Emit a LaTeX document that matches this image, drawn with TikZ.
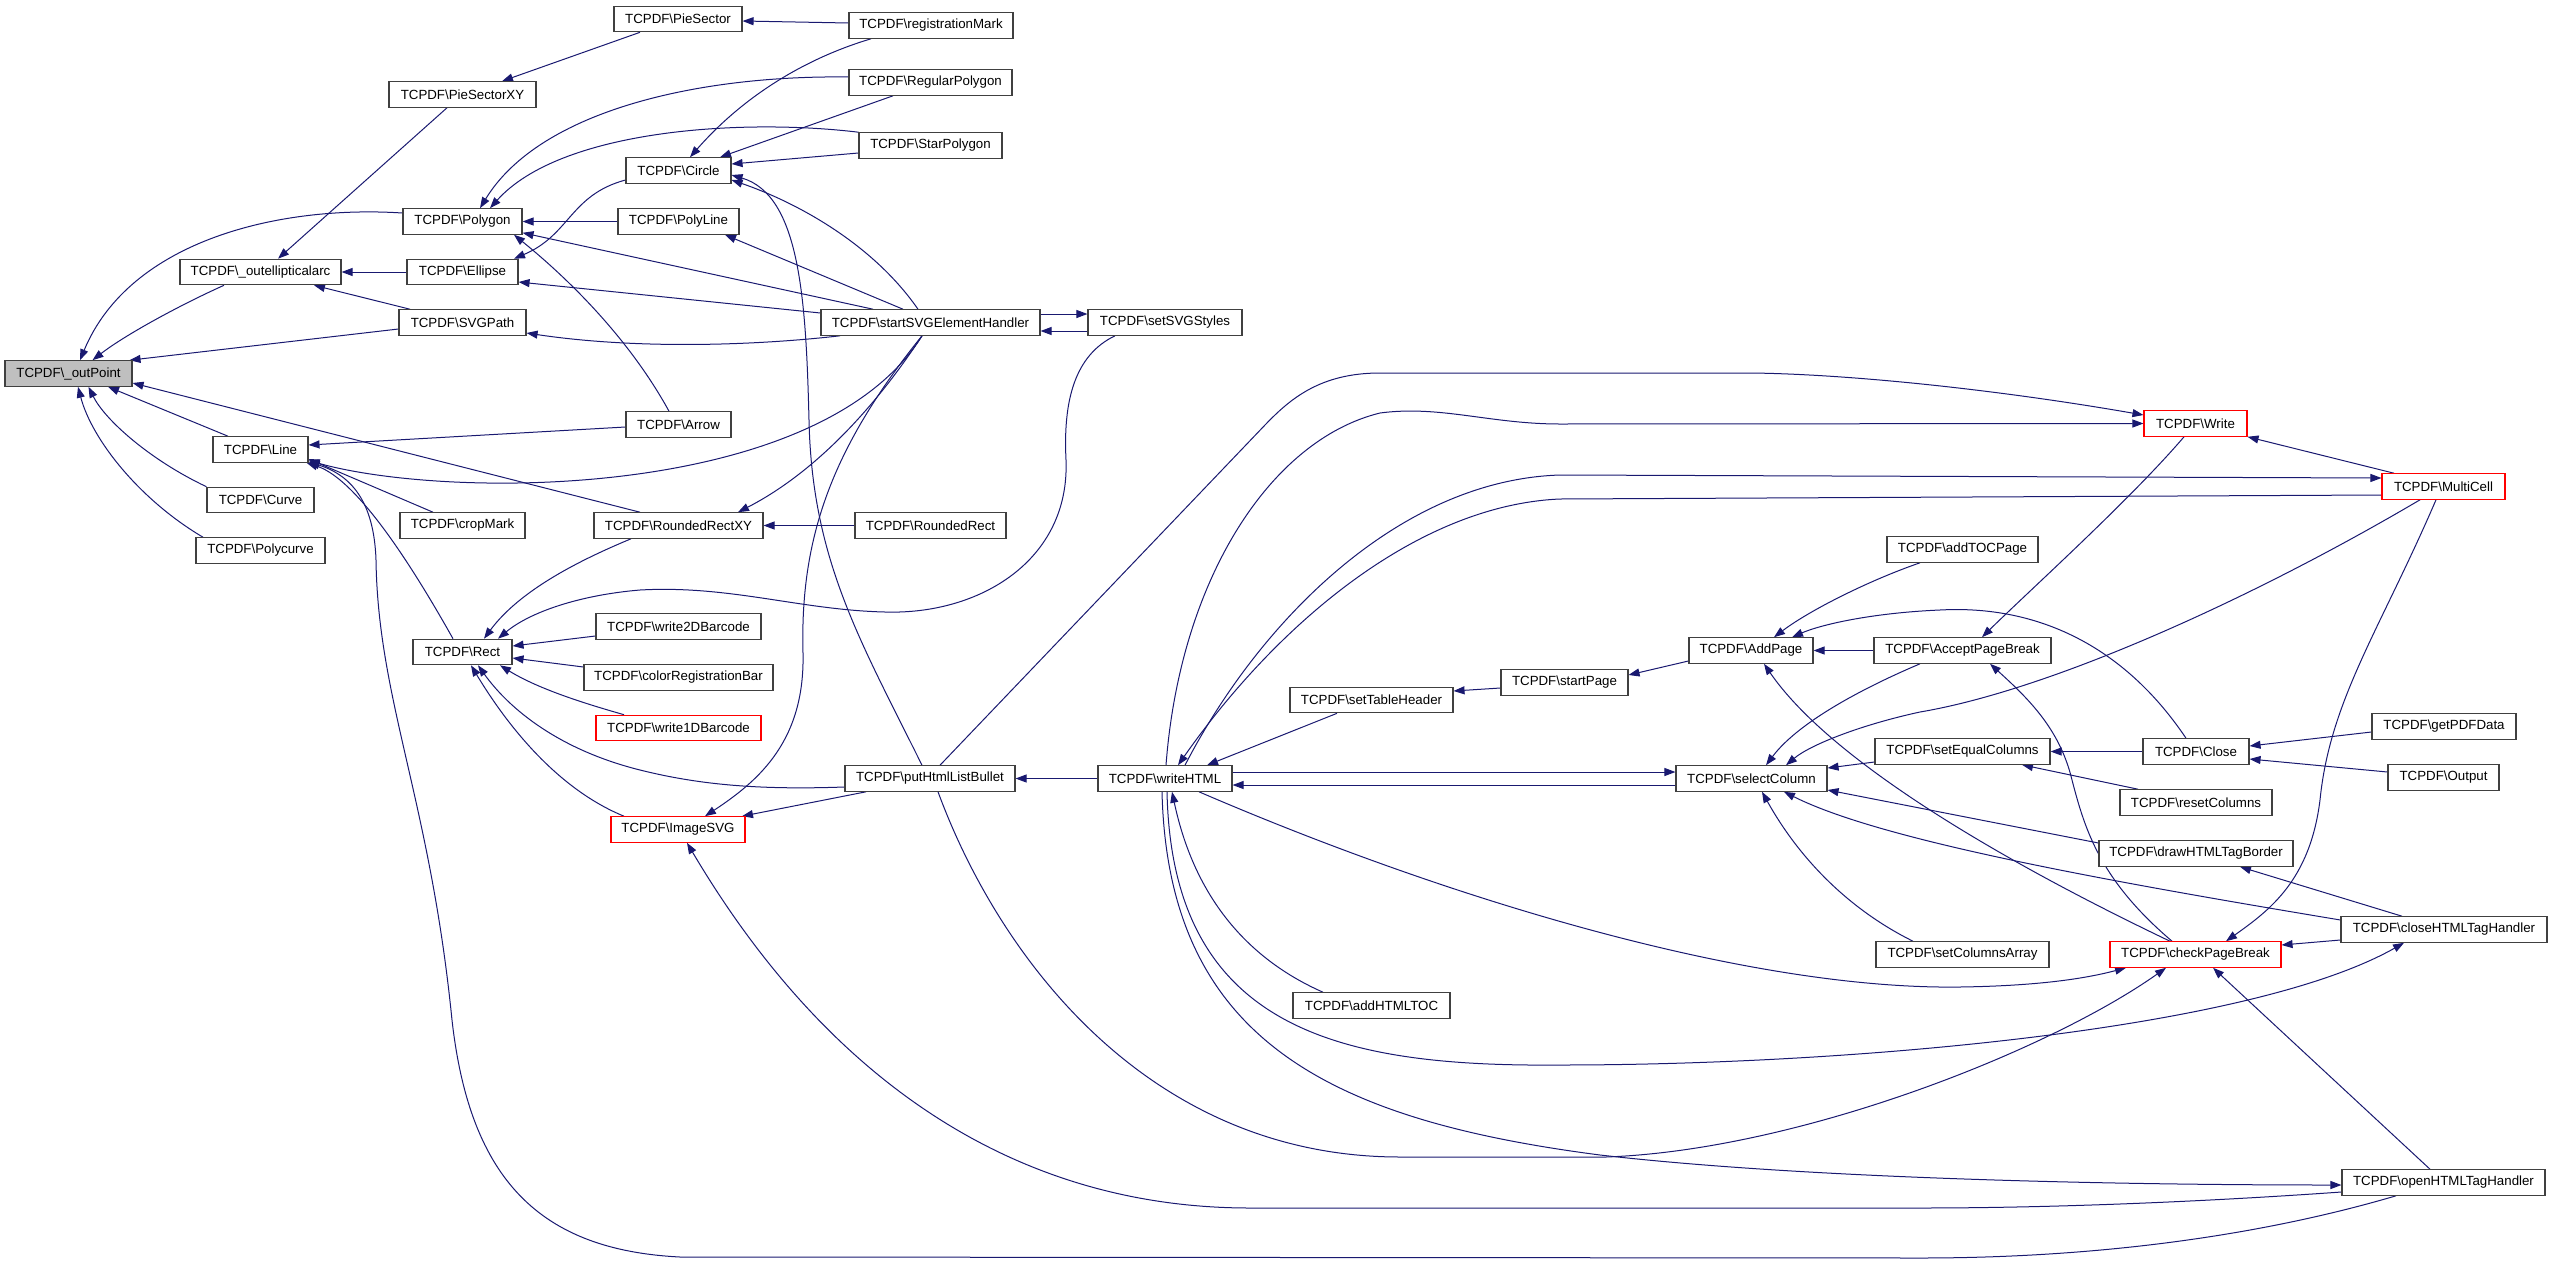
\documentclass[tikz,border=0pt]{standalone}
\usepackage{fontspec}
\setmainfont{Liberation Sans}
\usetikzlibrary{arrows.meta}
\definecolor{edgeblue}{HTML}{191970}
\definecolor{ndborder}{HTML}{404040}
\definecolor{rootfill}{HTML}{BFBFBF}
\newcommand{\tbs}{\textbackslash}
\pgfdeclarelayer{edgelayer}
\pgfsetlayers{edgelayer,main}
\tikzset{
  nd/.style={draw=ndborder, line width=1.1pt, fill=white, minimum height=25.5pt,
    inner xsep=4pt, inner ysep=0pt, font=\fontsize{13.3}{15}\selectfont, text=black},
  rnd/.style={nd, draw=red},
  e/.style={draw=edgeblue, line width=1pt, -{Triangle[length=11pt,width=8pt,fill=edgeblue]}}
}
\begin{document}
\begin{tikzpicture}[x=1pt,y=-1pt]
\useasboundingbox (0,0) rectangle (2552,1264);
% column 1
\node[nd, fill=rootfill, minimum width=127pt] (outPoint) at (68.5,373.5) {TCPDF\tbs\_outPoint};
% column 2
\node[nd, minimum width=161pt] (outellipticalarc) at (260.5,272) {TCPDF\tbs\_outellipticalarc};
\node[nd, minimum width=95pt] (Line) at (260.5,449.5) {TCPDF\tbs Line};
\node[nd, minimum width=107pt] (Curve) at (260.5,500) {TCPDF\tbs Curve};
\node[nd, minimum width=129pt] (Polycurve) at (260.5,550.5) {TCPDF\tbs Polycurve};
% column 3
\node[nd, minimum width=147pt] (PieSectorXY) at (462.5,94.5) {TCPDF\tbs PieSectorXY};
\node[nd, minimum width=119pt] (Polygon) at (462.5,221.5) {TCPDF\tbs Polygon};
\node[nd, minimum width=111pt] (Ellipse) at (462.5,272) {TCPDF\tbs Ellipse};
\node[nd, minimum width=127pt] (SVGPath) at (462.5,322.5) {TCPDF\tbs SVGPath};
\node[nd, minimum width=125pt] (cropMark) at (462.5,525.5) {TCPDF\tbs cropMark};
\node[nd, minimum width=99pt] (Rect) at (462.5,652) {TCPDF\tbs Rect};
% column 4
\node[nd, minimum width=128pt] (PieSector) at (678,19) {TCPDF\tbs PieSector};
\node[nd, minimum width=105pt] (Circle) at (678.5,170.5) {TCPDF\tbs Circle};
\node[nd, minimum width=121pt] (PolyLine) at (678.5,221.5) {TCPDF\tbs PolyLine};
\node[nd, minimum width=105pt] (Arrow) at (678.5,424.5) {TCPDF\tbs Arrow};
\node[nd, minimum width=169pt] (RoundedRectXY) at (678.5,525.5) {TCPDF\tbs RoundedRectXY};
\node[nd, minimum width=165pt] (write2DBarcode) at (678.5,626.5) {TCPDF\tbs write2DBarcode};
\node[nd, minimum width=189pt] (colorRegistrationBar) at (678.5,677.5) {TCPDF\tbs colorRegistrationBar};
\node[rnd, minimum width=165pt] (write1DBarcode) at (678.5,728) {TCPDF\tbs write1DBarcode};
\node[rnd, minimum width=134pt] (ImageSVG) at (678,829.5) {TCPDF\tbs ImageSVG};
% column 5
\node[nd, minimum width=164pt] (registrationMark) at (931,25.5) {TCPDF\tbs registrationMark};
\node[nd, minimum width=163pt] (RegularPolygon) at (930.5,82.5) {TCPDF\tbs RegularPolygon};
\node[nd, minimum width=143pt] (StarPolygon) at (930.5,145.5) {TCPDF\tbs StarPolygon};
\node[nd, minimum width=219pt] (startSVGElementHandler) at (930.5,322.5) {TCPDF\tbs startSVGElementHandler};
\node[nd, minimum width=151pt] (RoundedRect) at (930.5,525.5) {TCPDF\tbs RoundedRect};
\node[nd, minimum width=170pt] (putHtmlListBullet) at (930,778.5) {TCPDF\tbs putHtmlListBullet};
% column 6
\node[nd, minimum width=154pt] (setSVGStyles) at (1165,322.5) {TCPDF\tbs setSVGStyles};
\node[nd, minimum width=134pt] (writeHTML) at (1165,778.5) {TCPDF\tbs writeHTML};
% column 7
\node[nd, minimum width=163pt] (setTableHeader) at (1371.5,700) {TCPDF\tbs setTableHeader};
\node[nd, minimum width=157pt] (addHTMLTOC) at (1371.5,1005.5) {TCPDF\tbs addHTMLTOC};
% column 8
\node[nd, minimum width=127pt] (startPage) at (1564.5,682.5) {TCPDF\tbs startPage};
% column 9
\node[nd, minimum width=124pt] (AddPage) at (1751,650.5) {TCPDF\tbs AddPage};
\node[nd, minimum width=151pt] (selectColumn) at (1751.5,778.5) {TCPDF\tbs selectColumn};
% column 10
\node[nd, minimum width=151pt] (addTOCPage) at (1962.5,549.5) {TCPDF\tbs addTOCPage};
\node[nd, minimum width=177pt] (AcceptPageBreak) at (1962.5,650.5) {TCPDF\tbs AcceptPageBreak};
\node[nd, minimum width=175pt] (setEqualColumns) at (1962.5,751.5) {TCPDF\tbs setEqualColumns};
\node[nd, minimum width=173pt] (setColumnsArray) at (1962.5,954.5) {TCPDF\tbs setColumnsArray};
% column 11
\node[rnd, minimum width=103pt] (Write) at (2195.5,423.5) {TCPDF\tbs Write};
\node[nd, minimum width=106pt] (Close) at (2196,751.5) {TCPDF\tbs Close};
\node[nd, minimum width=152pt] (resetColumns) at (2196,802.5) {TCPDF\tbs resetColumns};
\node[nd, minimum width=194pt] (drawHTMLTagBorder) at (2196,853.5) {TCPDF\tbs drawHTMLTagBorder};
\node[rnd, minimum width=171pt] (checkPageBreak) at (2195.5,954.5) {TCPDF\tbs checkPageBreak};
% column 12
\node[rnd, minimum width=123pt] (MultiCell) at (2443.5,486.5) {TCPDF\tbs MultiCell};
\node[nd, minimum width=144pt] (getPDFData) at (2444,726.5) {TCPDF\tbs getPDFData};
\node[nd, minimum width=111pt] (Output) at (2443.5,777.5) {TCPDF\tbs Output};
\node[nd, minimum width=206pt] (closeHTMLTagHandler) at (2444,929.5) {TCPDF\tbs closeHTMLTagHandler};
\node[nd, minimum width=203pt] (openHTMLTagHandler) at (2443.5,1182.5) {TCPDF\tbs openHTMLTagHandler};

\begin{pgfonlayer}{edgelayer}
% to outPoint
\draw[e] ([yshift=8.5pt]Polygon.west) .. controls (280,205) and (130,240) .. ([xshift=11.5pt]outPoint.north);
\draw[e] ([xshift=-36.5pt]outellipticalarc.south) .. controls (180,305) and (125,335) .. ([xshift=24pt]outPoint.north);
\draw[e] ([yshift=-6.5pt]SVGPath.west) -- ([xshift=-3pt]outPoint.north east);
\draw[e] ([xshift=-38.5pt]RoundedRectXY.north) -- ([yshift=-9.5pt]outPoint.east);
\draw[e] ([xshift=-32.5pt]Line.north) -- ([xshift=39.5pt]outPoint.south);
\draw[e] (Curve.north west) .. controls (150,460) and (105,420) .. ([xshift=20pt]outPoint.south);
\draw[e] ([xshift=-57.5pt]Polycurve.north) .. controls (140,500) and (92,440) .. ([xshift=9.5pt]outPoint.south);
% to outellipticalarc
\draw[e] ([xshift=-15.5pt]PieSectorXY.south) -- ([xshift=17.5pt]outellipticalarc.north);
\draw[e] (Ellipse.west) -- (outellipticalarc.east);
\draw[e] ([xshift=-52.5pt]SVGPath.north) -- ([xshift=53.5pt]outellipticalarc.south);
% PieSector
\draw[e] ([xshift=-38pt]PieSector.south) -- ([xshift=39.5pt]PieSectorXY.north);
\draw[e] ([yshift=2.5pt]registrationMark.west) -- ([yshift=-2pt]PieSector.east);
% to Polygon
\draw[e] ([yshift=5.5pt]RegularPolygon.west) .. controls (700,75) and (540,110) .. ([xshift=17.5pt]Polygon.north);
\draw[e] (StarPolygon.north west) .. controls (740,118) and (560,130) .. ([xshift=27.5pt]Polygon.north);
\draw[e] (PolyLine.west) -- (Polygon.east);
\draw[e] ([xshift=-57.5pt]startSVGElementHandler.north) -- ([yshift=2pt]Polygon.south east);
\draw[e] ([xshift=-9.5pt]Arrow.north) .. controls (630,340) and (570,280) .. ([xshift=51.5pt]Polygon.south);
% to Ellipse, SVGPath
\draw[e] ([yshift=-9.5pt]Circle.west) .. controls (570,195) and (570,235) .. ([xshift=51.5pt]Ellipse.north);
\draw[e] ([yshift=9.5pt]startSVGElementHandler.west) -- ([yshift=-10pt]Ellipse.east);
\draw[e] ([xshift=-90.5pt]startSVGElementHandler.south) .. controls (760,345) and (640,350) .. ([yshift=-10.5pt]SVGPath.east);
% to Circle
\draw[e] ([xshift=-60pt]registrationMark.south) .. controls (800,60) and (740,100) .. ([xshift=11.5pt]Circle.north);
\draw[e] ([xshift=-37.5pt]RegularPolygon.south) -- ([xshift=41.5pt]Circle.north);
\draw[e] ([yshift=-7.5pt]StarPolygon.west) -- ([yshift=6.5pt]Circle.east);
\draw[e] ([xshift=-12.5pt]startSVGElementHandler.north) .. controls (870,240) and (790,200) .. ([yshift=-9.5pt]Circle.east);
\draw[e] ([xshift=-8pt]putHtmlListBullet.north) .. controls (860,640) and (812,560) .. (809,420) .. controls (806,300) and (800,195) .. ([yshift=-4.5pt]Circle.east);
% startSVGElementHandler others
\draw[e] ([xshift=-27.5pt]startSVGElementHandler.north) -- ([xshift=46.5pt]PolyLine.south);
\draw[e] ([yshift=8.5pt]startSVGElementHandler.east) -- ([yshift=8.5pt]setSVGStyles.west);
\draw[e] ([yshift=-8.5pt]setSVGStyles.west) -- ([yshift=-8.5pt]startSVGElementHandler.east);
\draw[e] ([xshift=-8.5pt]startSVGElementHandler.south) .. controls (820,500) and (450,500) .. ([yshift=-11pt]Line.east);
\draw[e] ([xshift=-8.5pt]startSVGElementHandler.south) .. controls (880,400) and (820,470) .. ([xshift=59.5pt]RoundedRectXY.north);
\draw[e] ([xshift=-8.5pt]startSVGElementHandler.south) .. controls (830,450) and (800,540) .. (803,653) .. controls (805,740) and (760,780) .. ([xshift=27pt]ImageSVG.north);
% to Line
\draw[e] ([yshift=-2.5pt]Arrow.west) -- ([yshift=4.5pt]Line.east);
\draw[e] ([xshift=-29.5pt]cropMark.north) -- ([yshift=-9.5pt]Line.east);
\draw[e] ([xshift=-9.5pt]Rect.north) .. controls (420,580) and (360,480) .. ([xshift=-2pt]Line.south east);
\draw[e] ([xshift=-47.5pt]openHTMLTagHandler.south) .. controls (2280,1230) and (2120,1258) .. (1920,1258) -- (680,1257) .. controls (540,1250) and (470,1180) .. (452,1020) .. controls (430,800) and (378,700) .. (376,560) .. controls (374,500) and (350,475) .. ([yshift=1pt]Line.south east);
% to Rect
\draw[e] ([xshift=-47.5pt]RoundedRectXY.south) .. controls (580,560) and (520,590) .. ([xshift=21.5pt]Rect.north);
\draw[e] ([xshift=-50pt]setSVGStyles.south) .. controls (1075,355) and (1063,400) .. (1066,460) .. controls (1070,560) and (980,615) .. (885,612) .. controls (800,610) and (730,585) .. (640,590) .. controls (580,595) and (530,612) .. ([xshift=35.5pt]Rect.north);
\draw[e] ([yshift=-9.5pt]write2DBarcode.west) -- ([yshift=6pt]Rect.east);
\draw[e] ([yshift=10.5pt]colorRegistrationBar.west) -- ([yshift=-6pt]Rect.east);
\draw[e] ([xshift=-54.5pt]write1DBarcode.north) .. controls (590,705) and (540,690) .. ([xshift=37.5pt]Rect.south);
\draw[e] ([yshift=-8.5pt]putHtmlListBullet.west) .. controls (760,790) and (700,785) .. (640,770) .. controls (560,750) and (510,710) .. ([xshift=15.5pt]Rect.south);
\draw[e] ([xshift=-54pt]ImageSVG.north) .. controls (560,790) and (510,730) .. ([xshift=8.5pt]Rect.south);
% RoundedRectXY, ImageSVG
\draw[e] (RoundedRect.west) -- (RoundedRectXY.east);
\draw[e] ([xshift=-64pt]putHtmlListBullet.south) -- ([xshift=64pt]ImageSVG.north);
\draw[e] ([yshift=-9.5pt]openHTMLTagHandler.west) .. controls (2200,1202) and (2050,1208) .. (1920,1208) -- (1250,1208) .. controls (950,1208) and (780,1000) .. ([xshift=9pt]ImageSVG.south);
% putHtmlListBullet
\draw[e] (writeHTML.west) -- (putHtmlListBullet.east);
\draw[e] ([xshift=10pt]putHtmlListBullet.north) -- (1265,425) .. controls (1290,399) and (1320,373) .. (1380,373) -- (1750,373) .. controls (1850,374) and (2000,390) .. ([yshift=8.5pt]Write.west);
\draw[e] ([xshift=8pt]putHtmlListBullet.south) .. controls (1000,960) and (1150,1157) .. (1400,1157) -- (1606,1157) .. controls (1800,1150) and (2050,1050) .. ([xshift=-29.5pt]checkPageBreak.south);
% writeHTML
\draw[e] ([xshift=1pt]writeHTML.north) .. controls (1180,580) and (1270,440) .. (1380,413) .. controls (1440,405) and (1490,424) .. (1560,424) -- (Write.west);
\draw[e] ([xshift=20pt]writeHTML.north) .. controls (1260,620) and (1400,480) .. (1560,475) -- ([yshift=8.5pt]MultiCell.west);
\draw[e] ([yshift=-8.5pt]MultiCell.west) -- (1560,499) .. controls (1420,505) and (1280,620) .. ([xshift=13pt]writeHTML.north);
\draw[e] ([xshift=-34.5pt]setTableHeader.south) -- ([xshift=42pt]writeHTML.north);
\draw[e] ([yshift=6.5pt]writeHTML.east) -- ([yshift=6.5pt]selectColumn.west);
\draw[e] ([yshift=-6.5pt]selectColumn.west) -- ([yshift=-6.5pt]writeHTML.east);
\draw[e] ([xshift=34pt]writeHTML.south) .. controls (1450,900) and (1750,990) .. (1960,987) .. controls (2030,986) and (2080,980) .. ([xshift=-69.5pt]checkPageBreak.south);
\draw[e] ([xshift=-48.5pt]addHTMLTOC.north) .. controls (1250,960) and (1195,900) .. ([xshift=7pt]writeHTML.south);
\draw[e] ([xshift=2pt]writeHTML.south) .. controls (1172,1030) and (1340,1067) .. (1560,1065) .. controls (1850,1065) and (2250,1030) .. ([xshift=-40pt]closeHTMLTagHandler.south);
\draw[e] ([xshift=-3pt]writeHTML.south) .. controls (1168,1040) and (1330,1120) .. (1600,1155) .. controls (1800,1178) and (2100,1185) .. ([yshift=-2.5pt]openHTMLTagHandler.west);
% to selectColumn
\draw[e] ([xshift=-42.5pt]AcceptPageBreak.south) .. controls (1870,685) and (1800,720) .. ([xshift=14.5pt]selectColumn.north);
\draw[e] ([xshift=-23.5pt]MultiCell.south) .. controls (2250,600) and (2050,690) .. (1920,712) .. controls (1860,725) and (1810,745) .. ([xshift=34.5pt]selectColumn.north);
\draw[e] ([yshift=-10.5pt]setEqualColumns.west) -- ([yshift=10.5pt]selectColumn.east);
\draw[e] ([yshift=10.5pt]drawHTMLTagBorder.west) -- ([yshift=-11.5pt]selectColumn.east);
\draw[e] ([yshift=9.5pt]closeHTMLTagHandler.west) .. controls (2100,880) and (1880,840) .. ([xshift=32.5pt]selectColumn.south);
\draw[e] ([xshift=-49.5pt]setColumnsArray.north) .. controls (1850,910) and (1800,860) .. ([xshift=10.5pt]selectColumn.south);
% to AddPage
\draw[e] ([xshift=-42.5pt]addTOCPage.south) .. controls (1870,580) and (1810,610) .. ([xshift=23pt]AddPage.north);
\draw[e] ([xshift=-10pt]Close.north) .. controls (2120,640) and (2030,605) .. (1940,610) .. controls (1870,613) and (1820,625) .. ([xshift=41pt]AddPage.north);
\draw[e] (AcceptPageBreak.west) -- (AddPage.east);
\draw[e] ([xshift=-25.5pt]checkPageBreak.north) .. controls (2000,860) and (1830,760) .. ([xshift=13pt]AddPage.south);
\draw[e] ([yshift=-10.5pt]AddPage.west) -- ([yshift=7.5pt]startPage.east);
\draw[e] ([yshift=-5.5pt]startPage.west) -- ([yshift=9pt]setTableHeader.east);
% to AcceptPageBreak
\draw[e] ([xshift=-11.5pt]Write.south) .. controls (2130,500) and (2030,590) .. ([xshift=19.5pt]AcceptPageBreak.north);
\draw[e] ([xshift=-23.5pt]checkPageBreak.north) .. controls (2100,880) and (2085,830) .. (2072,780) .. controls (2060,730) and (2030,700) .. ([xshift=27.5pt]AcceptPageBreak.south);
% MultiCell
\draw[e] ([xshift=-49.5pt]MultiCell.north) -- (Write.south east);
\draw[e] ([xshift=-7.5pt]MultiCell.south) .. controls (2380,630) and (2330,700) .. (2320,800) .. controls (2310,880) and (2270,910) .. ([xshift=30.5pt]checkPageBreak.north);
% Close etc
\draw[e] (Close.west) -- (setEqualColumns.east);
\draw[e] ([yshift=-5.5pt]getPDFData.west) -- ([yshift=5.5pt]Close.east);
\draw[e] ([yshift=5.5pt]Output.west) -- ([yshift=-7.5pt]Close.east);
\draw[e] ([xshift=-58pt]resetColumns.north) -- ([xshift=59.5pt]setEqualColumns.south);
\draw[e] ([xshift=-42pt]closeHTMLTagHandler.north) -- ([xshift=44pt]drawHTMLTagBorder.south);
\draw[e] ([yshift=-10.5pt]closeHTMLTagHandler.west) -- ([yshift=9.5pt]checkPageBreak.east);
\draw[e] ([xshift=-13.5pt]openHTMLTagHandler.north) -- ([xshift=17.5pt]checkPageBreak.south);
\end{pgfonlayer}
\end{tikzpicture}
\end{document}
